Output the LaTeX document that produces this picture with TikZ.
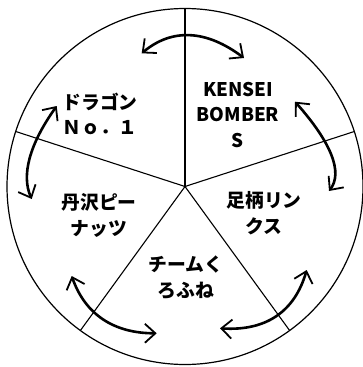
\documentclass[tikz,border=0pt]{standalone}
\usepackage{fontspec}
\setmainfont{Noto Sans CJK JP}
\usetikzlibrary{arrows.meta}
\tikzset{
  divider/.style={line width=1.1pt, draw=black},
  rim/.style={line width=1.2pt, draw=black},
  barb/.tip={Straight Barb[length=10.5pt, width=19pt, line width=1.8pt]},
  arr/.style={barb-barb, line width=2.6pt, draw=black},
  label/.style={font=\bfseries\fontsize{18.8pt}{25.5pt}\selectfont, align=center, inner sep=0pt, text=black}
}
\begin{document}
\begin{tikzpicture}[x=1pt,y=-1pt]
\useasboundingbox (0,0) rectangle (363,367);
\coordinate (hub) at (185,186.5);
\draw[rim] (hub) circle[radius=178pt];
\path (hub) ++(-90:178) coordinate (p1);
\path (hub) ++(-162:178) coordinate (p2);
\path (hub) ++(126:178) coordinate (p3);
\path (hub) ++(54:178) coordinate (p4);
\path (hub) ++(-18:178) coordinate (p5);
\foreach \p in {p1,p2,p3,p4,p5} \draw[divider] (hub) -- (\p);

\node[label] (kensei) at (238,115) {KENSEI\\BOMBER\\S};
\node[label] (dragon) at (100,114) {ドラゴン\\Ｎｏ．１};
\node[label] (tanzawa) at (99,215.5) {丹沢ピー\\ナッツ};
\node[label] (ashigara) at (264,213) {足柄リン\\クス};
\node[label] (kurofune) at (186,277.5) {チームく\\ろふね};

% top arrow
\coordinate (a1s) at (141.7,53.3);
\coordinate (a1c) at (172.0,28.0);
\coordinate (a1d) at (206.1,29.6);
\coordinate (a1e) at (244,58);
\draw[arr] (a1s) .. controls (a1c) and (a1d) .. (a1e);
% right arrow
\coordinate (a2s) at (295,101.7);
\coordinate (a2c) at (331.7,143.0);
\coordinate (a2d) at (343.0,172.7);
\coordinate (a2e) at (329,191);
\draw[arr] (a2s) .. controls (a2c) and (a2d) .. (a2e);
% bottom-right arrow
\coordinate (a3s) at (306.7,270);
\coordinate (a3c) at (294.6,311.9);
\coordinate (a3d) at (265.7,331.3);
\coordinate (a3e) at (220,328.3);
\draw[arr] (a3s) .. controls (a3c) and (a3d) .. (a3e);
% bottom-left arrow
\coordinate (a4s) at (71.7,276);
\coordinate (a4c) at (85.1,314.2);
\coordinate (a4d) at (113.4,333.3);
\coordinate (a4e) at (156.7,333.3);
\draw[arr] (a4s) .. controls (a4c) and (a4d) .. (a4e);
% left arrow
\coordinate (a5s) at (56.7,106);
\coordinate (a5c) at (29.4,144.3);
\coordinate (a5d) at (21.1,175.3);
\coordinate (a5e) at (31.7,199);
\draw[arr] (a5s) .. controls (a5c) and (a5d) .. (a5e);
\end{tikzpicture}
\end{document}
